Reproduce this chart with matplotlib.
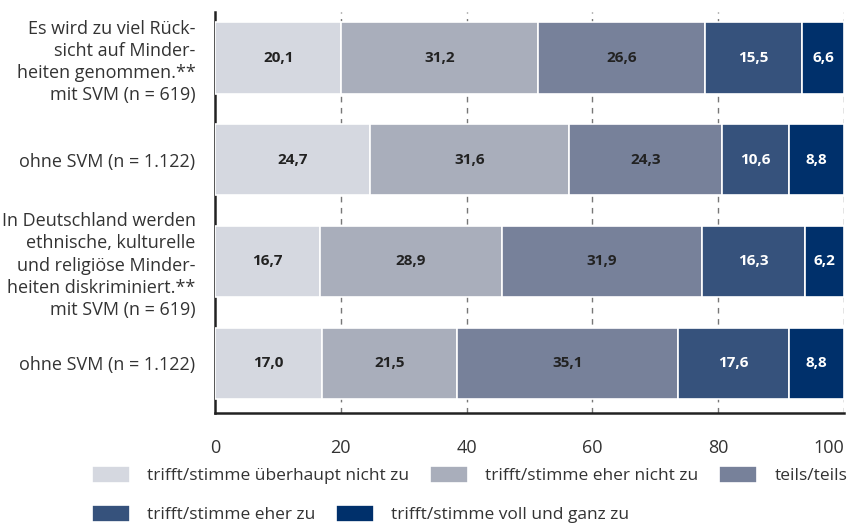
import matplotlib
matplotlib.use("Agg")
import matplotlib.pyplot as plt
import numpy as np

plt.rcParams['font.family'] = ['Open Sans', 'DejaVu Sans']

categories = [
    "Es wird zu viel Rück-\nsicht auf Minder-\nheiten genommen.**\nmit SVM (n = 619)",
    "ohne SVM (n = 1.122)",
    "In Deutschland werden\nethnische, kulturelle\nund religiöse Minder-\nheiten diskriminiert.**\nmit SVM (n = 619)",
    "ohne SVM (n = 1.122)",
]
series_names = [
    "trifft/stimme überhaupt nicht zu",
    "trifft/stimme eher nicht zu",
    "teils/teils",
    "trifft/stimme eher zu",
    "trifft/stimme voll und ganz zu",
]
values = {
    "trifft/stimme überhaupt nicht zu": [20.1, 24.7, 16.7, 17.0],
    "trifft/stimme eher nicht zu": [31.2, 31.6, 28.9, 21.5],
    "teils/teils": [26.6, 24.3, 31.9, 35.1],
    "trifft/stimme eher zu": [15.5, 10.6, 16.3, 17.6],
    "trifft/stimme voll und ganz zu": [6.6, 8.8, 6.2, 8.8],
}
colors = ["#d5d8e0", "#a9aebb", "#77819a", "#36527c", "#00306b"]
label_colors = ["#222222", "#222222", "#222222", "white", "white"]
xticks = [0, 20, 40, 60, 80, 100]

fig = plt.figure(figsize=(8.5, 5.27), dpi=100)
ax = fig.add_axes([215/850, 1-413/527, 629/850, 401/527])

y = np.arange(len(categories))
left = np.zeros(len(categories))
handles = []
for name, col, lc in zip(series_names, colors, label_colors):
    vals = np.array(values[name])
    bars = ax.barh(y, vals, left=left, height=0.7, color=col, edgecolor="white",
                   linewidth=1.2, zorder=3, label=name)
    handles.append(bars)
    for yi, l, v in zip(y, left, vals):
        ax.text(l + v/2, yi, f"{v:.1f}".replace(".", ","), ha="center", va="center",
                fontsize=11, fontweight="bold", color=lc, zorder=4)
    left += vals

ax.set_xlim(0, 100)
ax.set_ylim(3.49, -0.452)
ax.set_xticks(xticks)
ax.set_xticklabels([str(t) for t in xticks])
ax.set_yticks(y)
ax.set_yticklabels(categories, fontsize=13, color="#333333", ha="right", linespacing=1.3)
ax.tick_params(axis="y", length=0, pad=14)
ax.tick_params(axis="x", length=0, pad=19, labelsize=13, labelcolor="#333333")
ax.get_xticklabels()[-1].set_horizontalalignment("right")
ax.get_xticklabels()[-1].set_x(100)
for gx in xticks[1:]:
    ax.axvline(gx, color="#777777", linestyle=(0, (4, 4)), linewidth=1.0, zorder=1)
for s in ["top", "right"]:
    ax.spines[s].set_visible(False)
ax.spines["left"].set_linewidth(1.8)
ax.spines["bottom"].set_linewidth(1.8)
ax.spines["left"].set_color("#222222")
ax.spines["bottom"].set_color("#222222")

fs = 12.5
pxfs = fs * 100 / 72
common = dict(frameon=False, fontsize=fs, handlelength=38/pxfs, handleheight=19/pxfs,
              handletextpad=17/pxfs, columnspacing=21/pxfs, borderpad=0, borderaxespad=0,
              labelcolor="#333333")
leg1 = fig.legend(handles[:3], series_names[:3], ncol=3, loc="center left",
                  bbox_to_anchor=(92/850, 1-475/527), **common)
leg2 = fig.legend(handles[3:], series_names[3:], ncol=2, loc="center left",
                  bbox_to_anchor=(92/850, 1-514/527), **common)

fig.savefig("out.png", dpi=100)
